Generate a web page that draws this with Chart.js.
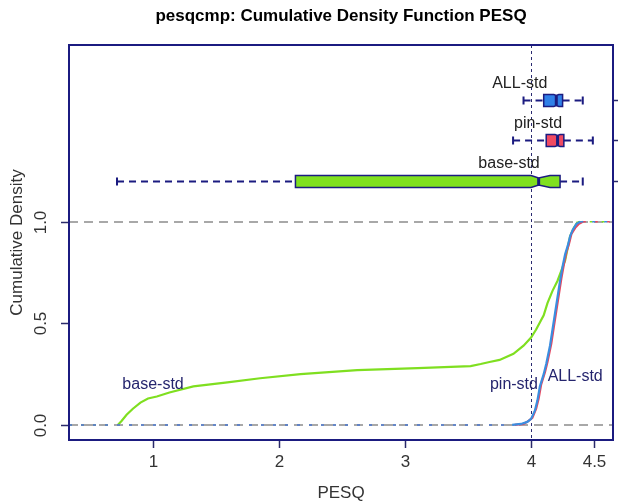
<!DOCTYPE html>
<html><head><meta charset="utf-8">
<script src="https://cdn.jsdelivr.net/npm/chart.js@4.4.1/dist/chart.umd.min.js"></script>
<style>html,body{margin:0;padding:0;background:#fff}</style>
</head><body>
<canvas id="c" width="618" height="504"></canvas>
<script>
// ---- data ----
const seriesNames = ['ALL-std', 'pin-std', 'base-std'];

const allX = [3.85,3.92,3.97,4.00,4.03,4.05,4.07,4.10,4.12,4.15,4.17,4.19,4.21,4.23,4.25,4.27,4.29,4.31,4.33,4.36,4.39];
const allY = [0,0.005,0.015,0.03,0.07,0.12,0.19,0.25,0.30,0.39,0.47,0.55,0.63,0.71,0.78,0.84,0.88,0.93,0.96,0.99,1.0];

const pinX = [3.87,3.94,3.98,4.01,4.04,4.06,4.08,4.11,4.13,4.16,4.18,4.20,4.22,4.24,4.26,4.28,4.30,4.32,4.35,4.38,4.41];
const pinY = [0,0.005,0.02,0.035,0.08,0.13,0.20,0.26,0.31,0.40,0.48,0.56,0.64,0.72,0.79,0.85,0.89,0.94,0.97,0.99,1.0];

const baseX = [0.72,0.75,0.79,0.84,0.90,0.96,1.03,1.13,1.32,1.59,1.85,2.17,2.62,3.10,3.52,3.60,3.67,3.75,3.86,3.94,4.00,4.04,4.10,4.13,4.17,4.21,4.24,4.27,4.29,4.31,4.34,4.37];
const baseY = [0,0.02,0.05,0.08,0.11,0.13,0.14,0.16,0.19,0.21,0.23,0.25,0.27,0.28,0.29,0.30,0.31,0.32,0.35,0.39,0.43,0.47,0.54,0.60,0.66,0.71,0.76,0.81,0.87,0.93,0.97,1.0];

const xTicks = [1, 2, 3, 4, 4.5];
const yTicks = [0, 0.5, 1];

// box plot statistics (one entry per series)
const boxNames = ['ALL-std', 'pin-std', 'base-std'];
const boxLevel = [1.6, 1.4, 1.2];
const boxLo    = [3.94, 3.857, 0.714];
const boxQ1    = [4.10, 4.12, 2.13];
const boxMed   = [4.20, 4.21, 4.06];
const boxQ3    = [4.25, 4.26, 4.23];
const boxHi    = [4.41, 4.49, 4.41];
const notchLo  = [4.18, 4.19, 4.00];
const notchHi  = [4.22, 4.23, 4.15];

// ---- styles / layout ----
const X_MIN = 0.333, X_MAX = 4.65, Y_MIN = -0.074, Y_MAX = 1.87;
const lineColors = ['#3a8ee0', '#e8455d', '#7fdf20'];
const boxFills   = ['#2f80e8', '#f04a62', '#80e020'];
const notchDepth = [1, 1, 2.5];
const NAVY = '#1b1b80';
const FONT = '"Liberation Sans", Arial, sans-serif';
// label anchors in data coordinates
const curveLabelPos = [[4.35, 0.24], [3.864, 0.20], [1.0, 0.20]];
const boxLabelPos   = [[3.91, 1.68], [4.055, 1.481], [3.825, 1.284]];

function makeData(xs, ys) {
  const pts = xs.map((x, i) => ({ x: x, y: ys[i] }));
  return [{ x: X_MIN, y: 0 }].concat(pts, [{ x: X_MAX, y: 1 }]);
}
const seriesX = [allX, pinX, baseX];
const seriesY = [allY, pinY, baseY];

const datasets = seriesNames.map((n, i) => {
  const data = makeData(seriesX[i], seriesY[i]);
  const last = data.length - 1;
  return {
    label: n,
    data: data,
    showLine: true,
    borderColor: lineColors[i],
    borderWidth: 2.2,
    pointRadius: 0,
    fill: false,
    segment: {
      borderDash: ctx => (ctx.p0DataIndex === 0 || ctx.p1DataIndex === last) ? [3, 9] : undefined,
      borderWidth: ctx => (ctx.p0DataIndex === 0 || ctx.p1DataIndex === last) ? 1.5 : undefined
    }
  };
});

function text(ctx, s, x, y, font, color, rot) {
  ctx.save();
  ctx.translate(x, y);
  if (rot) ctx.rotate(rot);
  ctx.font = font;
  ctx.fillStyle = color;
  ctx.textAlign = 'center';
  ctx.textBaseline = 'middle';
  ctx.fillText(s, 0, 0);
  ctx.restore();
}

const decor = {
  id: 'decor',
  beforeDatasetsDraw(chart) {
    const ctx = chart.ctx, xs = chart.scales.x, ys = chart.scales.y, a = chart.chartArea;
    ctx.save();
    ctx.beginPath(); ctx.rect(a.left, a.top, a.right - a.left, a.bottom - a.top); ctx.clip();
    ctx.strokeStyle = '#a8a8a8'; ctx.lineWidth = 2; ctx.setLineDash([9, 6]);
    [0, 1].forEach(v => {
      const py = Math.round(ys.getPixelForValue(v));
      ctx.beginPath(); ctx.moveTo(a.left, py); ctx.lineTo(a.right, py); ctx.stroke();
    });
    ctx.strokeStyle = '#2a2a70'; ctx.lineWidth = 1; ctx.setLineDash([3, 3]);
    const px = Math.round(xs.getPixelForValue(4)) + 0.5;
    ctx.beginPath(); ctx.moveTo(px, a.top); ctx.lineTo(px, a.bottom); ctx.stroke();
    ctx.restore();
  },
  afterDatasetsDraw(chart) {
    const ctx = chart.ctx, xs = chart.scales.x, ys = chart.scales.y, a = chart.chartArea;
    const X = v => xs.getPixelForValue(v), Y = v => ys.getPixelForValue(v);

    // box plots
    boxNames.forEach((n, i) => {
      const cy = Math.round(Y(boxLevel[i])) + 0.5;
      const h = 6, ni = notchDepth[i];
      ctx.save();
      ctx.strokeStyle = NAVY;
      // whiskers
      ctx.lineWidth = 2; ctx.setLineDash([7, 5]);
      ctx.beginPath(); ctx.moveTo(X(boxLo[i]), cy); ctx.lineTo(X(boxQ1[i]), cy);
      ctx.moveTo(X(boxQ3[i]), cy); ctx.lineTo(X(boxHi[i]), cy); ctx.stroke();
      ctx.setLineDash([]);
      ctx.beginPath();
      ctx.moveTo(X(boxLo[i]), cy - 4); ctx.lineTo(X(boxLo[i]), cy + 4);
      ctx.moveTo(X(boxHi[i]), cy - 4); ctx.lineTo(X(boxHi[i]), cy + 4);
      ctx.stroke();
      // notched box
      ctx.beginPath();
      ctx.moveTo(X(boxQ1[i]), cy - h);
      ctx.lineTo(X(notchLo[i]), cy - h);
      ctx.lineTo(X(boxMed[i]), cy - h + ni);
      ctx.lineTo(X(notchHi[i]), cy - h);
      ctx.lineTo(X(boxQ3[i]), cy - h);
      ctx.lineTo(X(boxQ3[i]), cy + h);
      ctx.lineTo(X(notchHi[i]), cy + h);
      ctx.lineTo(X(boxMed[i]), cy + h - ni);
      ctx.lineTo(X(notchLo[i]), cy + h);
      ctx.lineTo(X(boxQ1[i]), cy + h);
      ctx.closePath();
      ctx.fillStyle = boxFills[i]; ctx.fill();
      ctx.lineWidth = 1.5; ctx.stroke();
      // median
      ctx.lineWidth = 3;
      ctx.beginPath(); ctx.moveTo(X(boxMed[i]), cy - h + ni); ctx.lineTo(X(boxMed[i]), cy + h - ni); ctx.stroke();
      ctx.restore();
      // label
      text(ctx, n, X(boxLabelPos[i][0]), Y(boxLabelPos[i][1]), '16px ' + FONT, '#222222');
      // curve label
      text(ctx, n, X(curveLabelPos[i][0]), Y(curveLabelPos[i][1]), '16px ' + FONT, '#25256e');
    });

    // frame
    ctx.save();
    ctx.strokeStyle = NAVY; ctx.lineWidth = 2;
    ctx.strokeRect(a.left, a.top, a.right - a.left, a.bottom - a.top);
    // x ticks
    ctx.strokeStyle = '#2a2a6a'; ctx.lineWidth = 1.5;
    xTicks.forEach(v => {
      const px = Math.round(X(v)) + 0.5;
      ctx.beginPath(); ctx.moveTo(px, a.bottom + 1); ctx.lineTo(px, a.bottom + 8); ctx.stroke();
      text(ctx, String(v), px, 462, '17px ' + FONT, '#333333');
    });
    yTicks.forEach(v => {
      const py = Math.round(Y(v)) + 0.5;
      ctx.beginPath(); ctx.moveTo(a.left - 8, py); ctx.lineTo(a.left - 1, py); ctx.stroke();
      text(ctx, v.toFixed(1), 41, py, '17px ' + FONT, '#333333', -Math.PI / 2);
    });
    // right-side ticks at box levels
    boxLevel.forEach(v => {
      const py = Math.round(Y(v)) + 0.5;
      ctx.beginPath(); ctx.moveTo(a.right + 1, py); ctx.lineTo(a.right + 6, py); ctx.stroke();
    });
    ctx.restore();

    // titles
    const cx = (a.left + a.right) / 2, cyA = (a.top + a.bottom) / 2;
    text(ctx, 'pesqcmp: Cumulative Density Function PESQ', cx, 16, 'bold 17px ' + FONT, '#000000');
    text(ctx, 'PESQ', cx, 493, '17px ' + FONT, '#333333');
    text(ctx, 'Cumulative Density', 17, cyA, '17px ' + FONT, '#333333', -Math.PI / 2);
  }
};

new Chart(document.getElementById('c'), {
  type: 'scatter',
  data: { datasets: datasets },
  options: {
    responsive: false,
    animation: false,
    devicePixelRatio: 1,
    layout: { padding: { left: 69, right: 5, top: 45, bottom: 64 } },
    scales: {
      x: { type: 'linear', min: X_MIN, max: X_MAX, display: false },
      y: { type: 'linear', min: Y_MIN, max: Y_MAX, display: false }
    },
    plugins: { legend: { display: false }, tooltip: { enabled: false }, title: { display: false } }
  },
  plugins: [decor]
});
</script>
</body></html>
